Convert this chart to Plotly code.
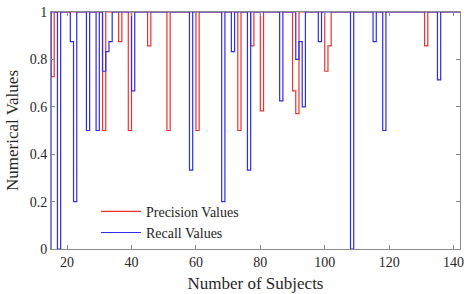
import plotly.graph_objects as go

subjects = list(range(14, 143))

# values per subject, 14..142 (10 per row)
precision = [
    1, 0.727, 1, 1, 1, 1, 1, 1, 1, 1,          # 14-23
    1, 1, 1, 1, 1, 1, 1, 0.5, 1, 1,            # 24-33
    1, 1, 0.875, 1, 1, 0.5, 1, 1, 1, 1,        # 34-43
    1, 0.857, 1, 1, 1, 1, 1, 0.5, 1, 1,        # 44-53
    1, 1, 1, 1, 1, 1, 0.5, 1, 1, 1,            # 54-63
    1, 1, 1, 1, 1, 1, 1, 1, 1, 0.5,            # 64-73
    1, 1, 1, 0.857, 1, 1, 0.583, 1, 1, 1,      # 74-83
    1, 1, 1, 1, 1, 1, 0.667, 0.571, 1, 1,      # 84-93
    1, 1, 1, 1, 1, 1, 0.75, 0.857, 1, 1,       # 94-103
    1, 1, 1, 1, 1, 1, 1, 1, 1, 1,              # 104-113
    1, 1, 1, 1, 1, 1, 1, 1, 1, 1,              # 114-123
    1, 1, 1, 1, 1, 1, 1, 0.857, 1, 1,          # 124-133
    1, 1, 1, 1, 1, 1, 1, 1, 1,                 # 134-142
]
recall = [
    0, 1, 1, 0, 1, 1, 1, 0.875, 0.2, 1,        # 14-23
    1, 1, 0.5, 1, 1, 0.5, 1, 0.75, 0.833, 0.875,  # 24-33
    1, 1, 1, 1, 1, 1, 0.667, 1, 1, 1,          # 34-43
    1, 1, 1, 1, 1, 1, 1, 1, 1, 1,              # 44-53
    1, 1, 1, 1, 0.333, 1, 1, 1, 1, 1,          # 54-63
    1, 1, 1, 1, 0.2, 1, 1, 0.833, 1, 1,        # 64-73
    1, 1, 0.333, 1, 1, 1, 1, 1, 1, 1,          # 74-83
    1, 1, 0.625, 1, 1, 1, 1, 0.8, 0.875, 0.6,  # 84-93
    1, 1, 1, 1, 0.875, 1, 1, 1, 1, 1,          # 94-103
    1, 1, 1, 1, 0, 1, 1, 1, 1, 1,              # 104-113
    1, 0.875, 1, 1, 0.5, 1, 1, 1, 1, 1,        # 114-123
    1, 1, 1, 1, 1, 1, 1, 1, 1, 1,              # 124-133
    1, 0.714, 1, 1, 1, 1, 1, 1, 1,             # 134-142
]

x_ticks = [20, 40, 60, 80, 100, 120, 140]
y_ticks = [0, 0.2, 0.4, 0.6, 0.8, 1]
y_tick_labels = ["0", "0.2", "0.4", "0.6", "0.8", "1"]

font_family = "Liberation Serif, Times New Roman, serif"

fig = go.Figure()
fig.add_trace(go.Scatter(x=subjects, y=precision, mode="lines", line_shape="hv",
                         name="Precision Values", line=dict(color="rgb(235,50,50)", width=1.2)))
fig.add_trace(go.Scatter(x=subjects, y=recall, mode="lines", line_shape="hv",
                         name="Recall Values", line=dict(color="rgb(45,45,235)", width=1.2)))

axis_common = dict(showgrid=False, zeroline=False, showline=True, linecolor="rgb(140,140,140)",
                   linewidth=1, mirror="ticks", ticks="inside", ticklen=4,
                   tickcolor="rgb(140,140,140)",
                   tickfont=dict(family=font_family, size=14, color="rgb(40,40,40)"))

fig.update_layout(
    width=469, height=294,
    margin=dict(l=51, r=9, t=12, b=45, autoexpand=False),
    plot_bgcolor="white", paper_bgcolor="white",
    font=dict(family=font_family, size=14, color="rgb(40,40,40)"),
    xaxis=dict(range=[15, 142], tickvals=x_ticks, automargin=False,
               title=dict(text="Number of Subjects", font=dict(family=font_family, size=17), standoff=8),
               **axis_common),
    yaxis=dict(range=[0, 1], tickvals=y_ticks, ticktext=y_tick_labels, automargin=False,
               title=dict(text="Numerical Values", font=dict(family=font_family, size=17), standoff=6),
               **axis_common),
    legend=dict(x=0.11, y=0.225, xanchor="left", yanchor="top", bgcolor="rgba(255,255,255,0)",
                font=dict(family=font_family, size=14, color="rgb(30,30,30)"),
                tracegroupgap=0, itemwidth=40),
    showlegend=True,
)

fig.write_html("out.html", config={"displayModeBar": False},
               post_script="document.body.style.margin='0';")
